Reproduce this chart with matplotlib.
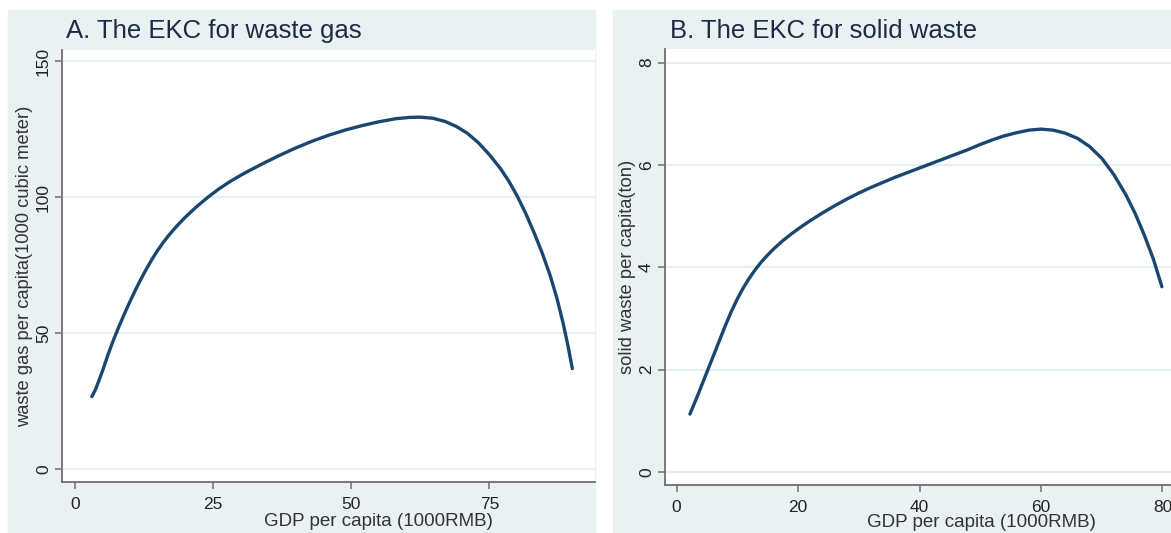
import matplotlib
matplotlib.use('Agg')
import matplotlib.pyplot as plt
from matplotlib.patches import Rectangle

# panel A: waste gas (1000 cubic meter per capita)
gas_gdp = [3.1, 3.8, 5.0, 6.0, 7.0, 8.0, 9.0, 10.0, 11.0, 12.0, 13.0, 14.0, 15.0, 16.0,
           17.0, 18.0, 19.0, 20.0, 22.0, 24.0, 26.0, 28.0, 30.0, 32.0, 34.5, 37.0, 40.0,
           43.0, 46.0, 49.0, 52.0, 55.0, 58.0, 60.5, 62.5, 64.8, 67.0, 69.0, 71.0, 73.0,
           75.0, 77.0, 78.5, 80.0, 81.5, 83.0, 84.5, 86.0, 87.2, 88.3, 89.2, 90.0]
gas_val = [26.7, 29.5, 36.0, 42.0, 47.5, 52.5, 57.2, 61.7, 66.0, 70.0, 73.8, 77.3, 80.5, 83.4,
           86.0, 88.4, 90.6, 92.7, 96.5, 99.9, 103.0, 105.7, 108.1, 110.3, 112.9, 115.4, 118.2,
           120.7, 122.9, 124.8, 126.4, 127.8, 128.9, 129.4, 129.5, 129.1, 127.9, 126.1, 123.6, 120.1,
           115.7, 110.6, 106.0, 100.6, 94.4, 87.4, 79.8, 71.2, 63.0, 54.0, 45.5, 37.0]

# panel B: solid waste (ton per capita)
solid_gdp = [2.2, 2.8, 3.5, 4.3, 5.2, 6.0, 7.0, 8.0, 9.0, 10.0, 11.0, 12.0, 13.0, 14.0, 15.0,
             16.0, 17.5, 19.0, 20.5, 22.0, 24.0, 26.0, 28.0, 30.0, 32.0, 34.0, 36.0, 38.0, 40.0,
             42.0, 44.0, 46.0, 48.0, 50.0, 52.0, 54.0, 56.0, 58.0, 60.0, 62.0, 64.0, 66.0, 68.0,
             70.0, 72.0, 74.0, 75.5, 77.0, 78.5, 79.9]
solid_val = [1.13, 1.30, 1.50, 1.74, 2.01, 2.25, 2.55, 2.85, 3.13, 3.38, 3.60, 3.79, 3.96, 4.11,
             4.24, 4.36, 4.52, 4.66, 4.79, 4.91, 5.06, 5.20, 5.33, 5.45, 5.56, 5.66, 5.76, 5.85,
             5.94, 6.03, 6.12, 6.21, 6.30, 6.40, 6.49, 6.57, 6.63, 6.68, 6.70, 6.68, 6.62, 6.52,
             6.36, 6.13, 5.81, 5.41, 5.05, 4.63, 4.16, 3.62]

W, H = 1171, 533
bg = '#eaf1f3'
navy = '#1a476f'
grid = '#e6eef1'
axcol = '#6e6e6e'

plt.rcParams['font.family'] = ['Liberation Sans', 'DejaVu Sans']

fig = plt.figure(figsize=(W / 100, H / 100), dpi=100)
fig.patch.set_facecolor('white')

# panel backgrounds (Stata graph region)
fig.patches.append(Rectangle((8 / W, 0), (595 - 8) / W, (533 - 10) / H,
                             transform=fig.transFigure, color=bg, zorder=-5))
fig.patches.append(Rectangle((613 / W, 0), (1171 - 613) / W, (533 - 10) / H,
                             transform=fig.transFigure, color=bg, zorder=-5))


def px_axes(l, r, b, t):
    ax = fig.add_axes([l / W, (H - b) / H, (r - l) / W, (b - t) / H])
    ax.set_zorder(2)
    return ax


def style(ax, yticks, xticks):
    ax.set_facecolor('white')
    for s in ['top', 'right']:
        ax.spines[s].set_visible(False)
    for s in ['left', 'bottom']:
        ax.spines[s].set_color(axcol)
        ax.spines[s].set_linewidth(1.3)
    ax.set_yticks(yticks)
    ax.set_xticks(xticks)
    ax.yaxis.grid(True, color=grid, linewidth=1.6)
    ax.set_axisbelow(True)
    ax.tick_params(axis='both', colors=axcol, length=5, width=1.1, labelsize=12.5,
                   labelcolor='#222222', pad=3)
    ax.tick_params(axis='x', pad=6)
    for lab in ax.get_yticklabels():
        lab.set_rotation(90)
        lab.set_va('center')


axA = px_axes(62, 595, 482, 50)
axA.plot(gas_gdp, gas_val, color=navy, linewidth=2.4, solid_capstyle='round')
axA.set_xlim(-2.3, 94.1)
axA.set_ylim(-4.7, 154.2)
style(axA, [0, 50, 100, 150], [0, 25, 50, 75])
axA.set_xlabel('GDP per capita (1000RMB)', fontsize=13.5, color='#333333')
axA.xaxis.set_label_coords((378 - 62) / (595 - 62), (482 - 513) / (482 - 50))
axA.set_ylabel('waste gas per capita(1000 cubic meter)', fontsize=13.2, color='#333333',
               labelpad=2)
fig.text(66 / W, 1 - 31 / H, 'A. The EKC for waste gas', fontsize=18.5, color='#1c2c44',
         va='center', ha='left')

axB = px_axes(665, 1171, 484.7, 49.3)
axB.plot(solid_gdp, solid_val, color=navy, linewidth=2.4, solid_capstyle='round')
axB.set_xlim(-1.9, 81.4)
axB.set_ylim(-0.25, 8.26)
style(axB, [0, 2, 4, 6, 8], [0, 20, 40, 60, 80])
axB.set_xlabel('GDP per capita (1000RMB)', fontsize=13.5, color='#333333')
axB.xaxis.set_label_coords((981 - 665) / (1171 - 665), (484.7 - 514) / (484.7 - 49.3))
axB.set_ylabel('solid waste per capita(ton)', fontsize=13.2, color='#333333', labelpad=2)
fig.text(670 / W, 1 - 31 / H, 'B. The EKC for solid waste', fontsize=18.5, color='#1c2c44',
         va='center', ha='left')

fig.savefig('out.png', dpi=100, facecolor=fig.get_facecolor())
